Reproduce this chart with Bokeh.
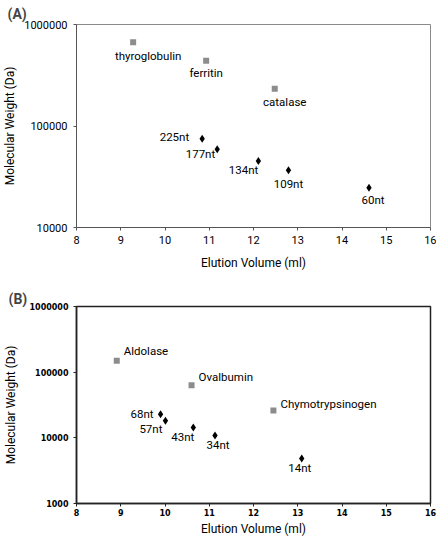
from bokeh.plotting import figure
from bokeh.layouts import column
from bokeh.models import FixedTicker, ColumnDataSource
from bokeh.core.properties import value
from bokeh.embed import file_html
from bokeh.resources import INLINE

# ---------------- data ----------------
# Panel A
a_std_names = ["thyroglobulin", "ferritin", "catalase"]
a_std_vol = [9.28, 10.93, 12.48]
a_std_mw = [668000, 440000, 233000]

a_rna_names = ["225nt", "177nt", "134nt", "109nt", "60nt"]
a_rna_vol = [10.84, 11.18, 12.11, 12.79, 14.61]
a_rna_mw = [75000, 59000, 45200, 36600, 24700]

# Panel B
b_std_names = ["Aldolase", "Ovalbumin", "Chymotrypsinogen"]
b_std_vol = [8.91, 10.60, 12.45]
b_std_mw = [149000, 63400, 26000]

b_rna_names = ["68nt", "57nt", "43nt", "34nt", "14nt"]
b_rna_vol = [9.90, 10.01, 10.64, 11.13, 13.09]
b_rna_mw = [22800, 18200, 14400, 10900, 4850]

x_ticks = [8, 9, 10, 11, 12, 13, 14, 15, 16]
a_y_ticks = [10000, 100000, 1000000]
b_y_ticks = [1000, 10000, 100000, 1000000]
x_title = "Elution Volume (ml)"
y_title = "Molecular Weight (Da)"
panel_titles = ["(A)", "(B)"]

# ---------------- styling (label placement in px) ----------------
a_std_off = dict(dx=[15, 0, 10], dy=[14, 12, 13], align=["center", "center", "center"])
a_rna_off = dict(dx=[-13, -2, 0, 0, 4], dy=[-2, 5, 9, 13.5, 12],
                 align=["right", "right", "right", "center", "center"])
b_std_off = dict(dx=[7, 7, 7], dy=[-10, -8.5, -7], align=["left", "left", "left"])
b_rna_off = dict(dx=[-7, -3, 1, 3, -2], dy=[0, 8, 10, 10, 10],
                 align=["right", "right", "right", "center", "center"])

FONT = "Roboto"
GRAY = "#8c8c8c"
W = 436


def add_labels(p, xs, ys, names, off):
    src = ColumnDataSource(dict(x=xs, y=ys, t=names, dx=off["dx"], dy=off["dy"], al=off["align"]))
    p.text(x="x", y="y", text="t", x_offset="dx", y_offset="dy", text_align="al",
           text_baseline="middle", text_font=value(FONT), text_font_size="11.5px",
           text_color="black", source=src)


def make_panel(height, y_range, y_ticks, borders, tick_font, tick_size, tick_style,
               axis_color, outline_color, outline_width, title, title_standoff):
    p = figure(width=W, height=height, x_range=(8, 16), y_range=y_range,
               y_axis_type="log", output_backend="svg", toolbar_location=None,
               min_border_left=borders[0], min_border_right=borders[1],
               min_border_top=borders[2], min_border_bottom=borders[3])
    p.title.text = title
    p.title.align = "left"
    p.title.offset = -borders[0]
    p.title.text_font = FONT
    p.title.text_font_size = "14px"
    p.title.text_font_style = "bold"
    p.title.standoff = title_standoff
    p.xgrid.visible = False
    p.ygrid.visible = False
    p.outline_line_color = outline_color
    p.outline_line_width = outline_width
    p.background_fill_color = "white"
    p.border_fill_color = "white"
    p.xaxis.ticker = FixedTicker(ticks=x_ticks)
    p.yaxis.ticker = FixedTicker(ticks=y_ticks)
    p.yaxis.major_label_overrides = {t: str(t) for t in y_ticks}
    for ax in (p.xaxis[0], p.yaxis[0]):
        ax.minor_tick_line_color = None
        ax.major_tick_in = 0
        ax.major_tick_out = 3
        ax.axis_line_color = axis_color
        ax.axis_line_width = outline_width
        ax.major_tick_line_color = axis_color
        ax.major_label_text_font = tick_font
        ax.major_label_text_font_size = tick_size
        ax.major_label_text_font_style = tick_style
        ax.major_label_text_color = "black"
        ax.axis_label_text_font = FONT
        ax.axis_label_text_font_size = "12px"
        ax.axis_label_text_font_style = "normal"
        ax.axis_label_text_color = "black"
    p.xaxis.axis_label = x_title
    p.yaxis.axis_label = y_title
    return p


# ---------------- panel A ----------------
pa = make_panel(272, (10000, 1000000), a_y_ticks, (69, 6, 21, 44),
                FONT, "11px", "normal", "#555555", "#8a8a8a", 1, panel_titles[0], 6)
pa.xaxis.major_label_standoff = 5
pa.xaxis.axis_label_standoff = 9
pa.yaxis.major_label_standoff = 6
pa.yaxis.axis_label_standoff = 4
pa.scatter(a_std_vol, a_std_mw, marker="square", size=6, color=GRAY, line_color=None)
pa.scatter(a_rna_vol, a_rna_mw, marker="diamond", size=8, color="black", line_color=None)
add_labels(pa, a_std_vol, a_std_mw, a_std_names, a_std_off)
add_labels(pa, a_rna_vol, a_rna_mw, a_rna_names, a_rna_off)

# ---------------- panel B ----------------
pb = make_panel(266, (1000, 1000000), b_y_ticks, (68, 5, 34, 32),
                "DejaVu Sans", "8px", "bold", "#222222", "#222222", 1.5, panel_titles[1], 0)
pb.xaxis.major_label_standoff = 2
pb.xaxis.axis_label_standoff = 3
pb.yaxis.major_label_standoff = 5
pb.yaxis.axis_label_standoff = 9
pb.scatter(b_std_vol, b_std_mw, marker="square", size=6, color=GRAY, line_color=None)
pb.scatter(b_rna_vol, b_rna_mw, marker="diamond", size=8, color="black", line_color=None)
add_labels(pb, b_std_vol, b_std_mw, b_std_names, b_std_off)
add_labels(pb, b_rna_vol, b_rna_mw, b_rna_names, b_rna_off)

layout = column(pa, pb, spacing=0)
open("out.html", "w").write(file_html(layout, INLINE))
